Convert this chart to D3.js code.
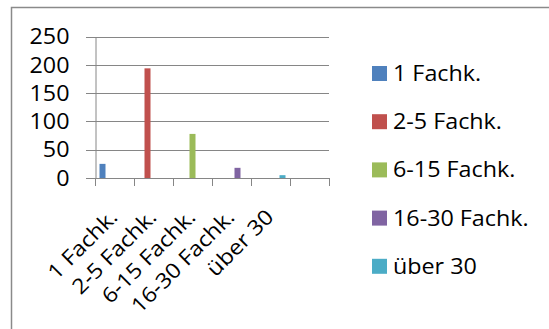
<!DOCTYPE html>
<html>
<head>
<meta charset="utf-8">
<script src="https://cdn.jsdelivr.net/npm/d3@7"></script>
<style>
  html, body { margin: 0; padding: 0; background: #fff; }
  svg { display: block; font-family: "Open Sans", "Noto Sans", sans-serif; }
</style>
</head>
<body>
<svg id="chart" width="549" height="329"></svg>
<script>
// Categories along the x axis (the last slot is left empty)
const categories = ["1 Fachk.", "2-5 Fachk.", "6-15 Fachk.", "16-30 Fachk.", "über 30", ""];
// Series names (legend)
const seriesNames = ["1 Fachk.", "2-5 Fachk.", "6-15 Fachk.", "16-30 Fachk.", "über 30"];
// Each series carries a value only in its own category
const seriesValues = [
  [25, null, null, null, null, null],
  [null, 194, null, null, null, null],
  [null, null, 78, null, null, null],
  [null, null, null, 18, null, null],
  [null, null, null, null, 5, null]
];
const seriesColors = ["#4F81BD", "#C0504D", "#9BBB59", "#8064A2", "#4BACC6"];
const yTicks = [0, 50, 100, 150, 200, 250];

const FONT_SIZE = 21;
const STRETCH = 1.11; // slightly wide lettering

const svg = d3.select("#chart");

// Chart frame
svg.append("path")
  .attr("d", "M11.5,329 V7.5 H549")
  .attr("fill", "none")
  .attr("stroke", "#8a8a8a")
  .attr("stroke-width", 1.5);

const plot = { left: 95, right: 329, top: 36.7, bottom: 178 };

const x = d3.scaleBand()
  .domain(d3.range(categories.length))
  .range([plot.left, plot.right])
  .paddingInner(0).paddingOuter(0);

const y = d3.scaleLinear()
  .domain([0, 250])
  .range([plot.bottom, plot.top]);

// Horizontal gridlines (extend left past the axis as outside tick marks)
svg.append("g")
  .selectAll("line")
  .data(yTicks)
  .join("line")
  .attr("x1", plot.left - 9)
  .attr("x2", plot.right)
  .attr("y1", d => Math.round(y(d)) + 0.5)
  .attr("y2", d => Math.round(y(d)) + 0.5)
  .attr("stroke", "#868686")
  .attr("stroke-width", 1);

// Y axis line and labels
const yAxis = svg.append("g")
  .attr("transform", `translate(${plot.left + 0.5},0)`)
  .call(d3.axisLeft(y).tickValues(yTicks).tickSize(0).tickPadding(0));
yAxis.select(".domain").attr("stroke", "#868686");
yAxis.selectAll(".tick text")
  .attr("x", 0)
  .attr("fill", "#000")
  .attr("dy", "0.34em")
  .attr("transform", `translate(-26,0) scale(${STRETCH},1)`)
  .style("font-size", FONT_SIZE + "px")
  .style("font-family", "'Open Sans', sans-serif");

// X axis tick marks at category boundaries
const bounds = d3.range(categories.length + 1).map(i =>
  i < categories.length ? x(i) : x(categories.length - 1) + x.bandwidth());
svg.append("g")
  .selectAll("line")
  .data(bounds)
  .join("line")
  .attr("x1", d => Math.round(d) + 0.5)
  .attr("x2", d => Math.round(d) + 0.5)
  .attr("y1", plot.bottom)
  .attr("y2", plot.bottom + 8)
  .attr("stroke", "#868686");

// Clustered bars: gap width 150% of a bar
const nSeries = seriesNames.length;
const barW = x.bandwidth() / (nSeries + 1.5);
const gapHalf = barW * 0.75;

seriesValues.forEach((vals, s) => {
  svg.append("g")
    .selectAll("rect")
    .data(vals.map((v, i) => ({ v, i })).filter(d => d.v !== null))
    .join("rect")
    .attr("x", d => x(d.i) + gapHalf + s * barW)
    .attr("width", barW)
    .attr("y", d => y(d.v))
    .attr("height", d => y(0) - y(d.v))
    .attr("fill", seriesColors[s]);
});

// Rotated category labels
svg.append("g")
  .selectAll("text")
  .data(categories)
  .join("text")
  .attr("transform", (d, i) =>
    `translate(${x(i) + x.bandwidth() / 2 - 6},${plot.bottom + 30}) rotate(-45) scale(${STRETCH},1)`)
  .attr("text-anchor", "end")
  .attr("dy", "0.7em")
  .style("font-size", FONT_SIZE + "px")
  .attr("fill", "#000")
  .text(d => d);

// Legend
const legend = svg.append("g");
seriesNames.forEach((name, s) => {
  const cy = 73.5 + s * 48.2;
  legend.append("rect")
    .attr("x", 372)
    .attr("y", cy - 7.5)
    .attr("width", 15)
    .attr("height", 15)
    .attr("fill", seriesColors[s]);
  legend.append("text")
    .attr("transform", `translate(393,${cy}) scale(${STRETCH},1)`)
    .attr("dy", "0.36em")
    .style("font-size", FONT_SIZE + "px")
    .attr("fill", "#000")
    .text(name);
});
</script>
</body>
</html>
